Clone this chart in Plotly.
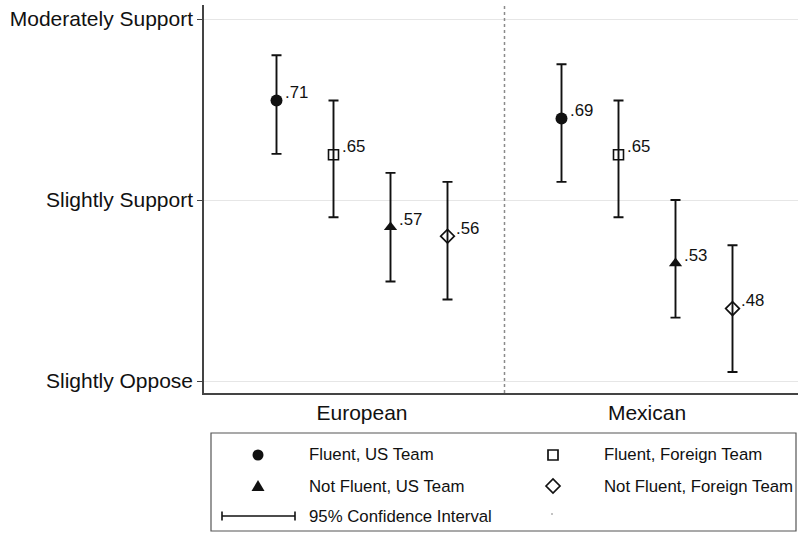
import plotly.graph_objects as go

# ---- data -------------------------------------------------------------
groups = ["European", "Mexican"]
conditions = [
    "Fluent, US Team",
    "Fluent, Foreign Team",
    "Not Fluent, US Team",
    "Not Fluent, Foreign Team",
]
european_est = [0.71, 0.65, 0.57, 0.56]
european_lo = [0.651, 0.581, 0.510, 0.490]
european_hi = [0.760, 0.710, 0.630, 0.620]
mexican_est = [0.69, 0.65, 0.53, 0.48]
mexican_lo = [0.620, 0.581, 0.470, 0.410]
mexican_hi = [0.750, 0.710, 0.600, 0.550]

y_tick_vals = [0.4, 0.6, 0.8]
y_tick_text = ["Slightly Oppose", "Slightly Support", "Moderately Support"]

# ---- styling ----------------------------------------------------------
FONT = "Liberation Sans, Arial, Helvetica, sans-serif"
INK = "#111111"
group_centers = [1, 6]
offsets = [-1.5, -0.5, 0.5, 1.5]
marker_styles = [
    dict(symbol="circle", size=12, color=INK, line=dict(width=0)),
    dict(symbol="square-open", size=10, color=INK, line=dict(width=1.6)),
    dict(symbol="triangle-up", size=11.5, color=INK, line=dict(width=0)),
    dict(symbol="diamond-open", size=10.5, color=INK, line=dict(width=1.7)),
]

W, H = 799, 533
M_L, M_R, M_T, M_B = 204, 1, 5, 140
PLOT_W = W - M_L - M_R
PLOT_H = H - M_T - M_B


def px_x(px):
    return (px - M_L) / PLOT_W


def px_y(py):
    return (H - M_B - py) / PLOT_H


fig = go.Figure()

for i, cond in enumerate(conditions):
    est = [european_est[i], mexican_est[i]]
    lo = [european_lo[i], mexican_lo[i]]
    hi = [european_hi[i], mexican_hi[i]]
    xs = [c + offsets[i] for c in group_centers]
    fig.add_trace(go.Scatter(
        x=xs, y=est, mode="markers", name=cond, showlegend=False,
        marker=marker_styles[i],
        error_y=dict(type="data", symmetric=False,
                     array=[h - e for h, e in zip(hi, est)],
                     arrayminus=[e - l for e, l in zip(est, lo)],
                     color=INK, thickness=1.9, width=5),
        cliponaxis=False,
    ))
    for x, v in zip(xs, est):
        fig.add_annotation(
            x=x, y=v, text="." + f"{round(v * 100):02d}", showarrow=False,
            xanchor="left", yanchor="middle", xshift=6, yshift=8,
            font=dict(family=FONT, size=16.8, color=INK),
        )

# divider between the two groups
fig.add_shape(type="line", xref="x", yref="paper",
              x0=sum(group_centers) / 2, x1=sum(group_centers) / 2, y0=0, y1=1,
              line=dict(color="#8a8a8a", width=1.5, dash="dot"))

# ---- legend box -------------------------------------------------------
fig.add_shape(type="rect", xref="paper", yref="paper",
              x0=px_x(211), x1=px_x(796), y0=px_y(531), y1=px_y(433),
              line=dict(color="#555555", width=1.2), fillcolor="rgba(0,0,0,0)")

rows = [455, 486, 516]
col_sym = [258, 553]
col_txt = [307, 602]
legend_items = [
    (0, 0, conditions[0], "circle"),
    (1, 0, conditions[1], "square"),
    (0, 1, conditions[2], "triangle"),
    (1, 1, conditions[3], "diamond"),
]
for col, row, label, kind in legend_items:
    ax, ay = px_x(col_sym[col]), px_y(rows[row])
    common = dict(xref="paper", yref="paper", xsizemode="pixel",
                  ysizemode="pixel", xanchor=ax, yanchor=ay)
    if kind == "circle":
        fig.add_shape(type="circle", x0=-5.5, x1=5.5, y0=-5.5, y1=5.5,
                      fillcolor=INK, line=dict(width=0), **common)
    elif kind == "square":
        fig.add_shape(type="rect", x0=-5, x1=5, y0=-5, y1=5,
                      fillcolor="white", line=dict(color=INK, width=1.7), **common)
    elif kind == "triangle":
        fig.add_shape(type="path", path="M -6.5 -5 L 6.5 -5 L 0 6 Z",
                      fillcolor=INK, line=dict(width=0), **common)
    else:
        fig.add_shape(type="path", path="M -7 0 L 0 7 L 7 0 L 0 -7 Z",
                      fillcolor="white", line=dict(color=INK, width=1.7), **common)
    fig.add_annotation(xref="paper", yref="paper", x=px_x(col_txt[col]),
                       y=px_y(rows[row]), text=label, showarrow=False,
                       xanchor="left", yanchor="middle",
                       font=dict(family=FONT, size=16.8, color=INK))

# confidence-interval key
ci_y = px_y(rows[2])
fig.add_shape(type="line", xref="paper", yref="paper",
              x0=px_x(222), x1=px_x(295), y0=ci_y, y1=ci_y,
              line=dict(color=INK, width=1.6))
for cx in (222, 295):
    fig.add_shape(type="line", xref="paper", yref="paper",
                  xsizemode="pixel", ysizemode="pixel",
                  xanchor=px_x(cx), yanchor=ci_y, x0=0, x1=0, y0=-4.5, y1=4.5,
                  line=dict(color=INK, width=1.6))
fig.add_annotation(xref="paper", yref="paper", x=px_x(col_txt[0]), y=ci_y,
                   text="95% Confidence Interval", showarrow=False,
                   xanchor="left", yanchor="middle",
                   font=dict(family=FONT, size=16.8, color=INK))
fig.add_shape(type="circle", xref="paper", yref="paper",
              xsizemode="pixel", ysizemode="pixel",
              xanchor=px_x(552), yanchor=px_y(514),
              x0=-0.8, x1=0.8, y0=-0.8, y1=0.8,
              fillcolor="#777777", line=dict(width=0))

# ---- axes -------------------------------------------------------------
unit = 57.0
x_left = group_centers[0] - (362 - M_L) / unit
fig.update_xaxes(
    range=[x_left, x_left + PLOT_W / unit],
    tickvals=group_centers, ticktext=groups, ticks="",
    showgrid=False, zeroline=False,
    showline=True, linecolor="#444444", linewidth=1.5,
    tickfont=dict(family=FONT, size=21, color=INK),
)
fig.update_yaxes(
    range=[0.4 - 12 / 905, 0.8 + 14 / 905],
    tickvals=y_tick_vals, ticktext=y_tick_text,
    ticks="outside", ticklen=5, tickwidth=1.2, tickcolor="#444444",
    showgrid=True, gridcolor="#e6e6e6", gridwidth=1.2, zeroline=False,
    showline=True, linecolor="#444444", linewidth=1.5,
    tickfont=dict(family=FONT, size=21, color=INK),
)

fig.update_layout(
    width=W, height=H,
    margin=dict(l=M_L, r=M_R, t=M_T, b=M_B),
    paper_bgcolor="white", plot_bgcolor="white",
    font=dict(family=FONT, color=INK),
    showlegend=False,
)

fig.write_html("out.html")
